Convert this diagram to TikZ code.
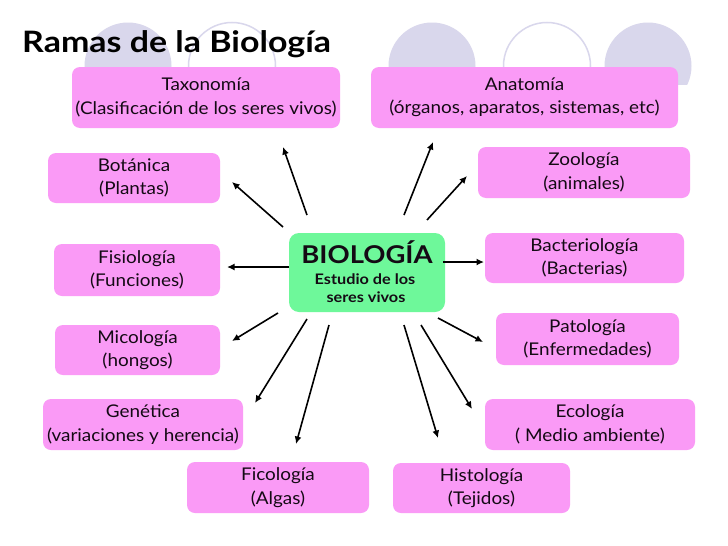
\documentclass[tikz,border=0pt]{standalone}
\usepackage{fontspec}
\setmainfont{Lato}
\newfontfamily\boxfont[FakeStretch=1.08]{Lato}
\newfontfamily\titlefont[FakeStretch=1.15]{Lato}
\newfontfamily\biofont[FakeStretch=1.12]{Lato}
\usetikzlibrary{arrows.meta}
\definecolor{pinkbox}{HTML}{FA9AF6}
\definecolor{greenbox}{HTML}{6EF89A}
\definecolor{lav}{HTML}{D9D7EC}
\definecolor{ink}{HTML}{140A14}
\tikzset{
  pbox/.style={fill=pinkbox, rounded corners=8pt, align=center, text=ink, inner sep=0pt,
    font=\boxfont\fontsize{17.5}{23.5}\selectfont},
  gbox/.style={fill=greenbox, rounded corners=10pt, align=center, text=ink, inner sep=0pt},
  arr/.style={line width=1.6pt, -{Latex[length=7.5pt,width=7pt]}},
  fcirc/.style={fill=lav},
  ocirc/.style={draw=lav, line width=1.5pt, fill=white},
}
\begin{document}
\begin{tikzpicture}[x=1pt,y=-1pt]
\useasboundingbox[fill=white] (0,0) rectangle (728,546);
% decorative circles
\begin{scope}
\clip (0,0) rectangle (728,84);
\fill[fcirc] (128,66) circle (43.5);
\draw[ocirc] (232,66) circle (43.5);
\fill[fcirc] (432,66) circle (43.5);
\draw[ocirc] (547,66) circle (43.5);
\fill[fcirc] (648,66) circle (43.5);
\end{scope}
% title
\node[anchor=base west, inner sep=0pt, font=\titlefont\fontsize{29.5}{31}\selectfont\bfseries, text=black] (title) at (22,52) {Ramas de la Biología};
% boxes
\node[pbox, minimum width=268pt, minimum height=61pt] (tax) at (206,97.5) {Taxonomía\\(Clasificación de los seres vivos)};
\node[pbox, minimum width=307pt, minimum height=61pt] (ana) at (524.5,97.5) {Anatomía\\(órganos, aparatos, sistemas, etc)};
\node[pbox, minimum width=172pt, minimum height=50pt] (bot) at (134,178) {Botánica\\(Plantas)};
\node[pbox, minimum width=212pt, minimum height=51pt] (zoo) at (584,172.5) {Zoología\\(animales)};
\node[pbox, minimum width=166pt, minimum height=52pt] (fis) at (137,270) {Fisiología\\(Funciones)};
\node[pbox, minimum width=199pt, minimum height=50pt] (bac) at (584.5,258) {Bacteriología\\(Bacterias)};
\node[pbox, minimum width=165pt, minimum height=50pt] (mic) at (137.5,350) {Micología\\(hongos)};
\node[pbox, minimum width=183pt, minimum height=52pt] (pat) at (587.5,339) {Patología\\(Enfermedades)};
\node[pbox, minimum width=200pt, minimum height=51pt] (gen) at (143,424.5) {Genética\\(variaciones y herencia)};
\node[pbox, minimum width=210pt, minimum height=51pt] (eco) at (590,424.5) {Ecología\\( Medio ambiente)};
\node[pbox, minimum width=182pt, minimum height=51pt] (fic) at (278,487.5) {Ficología\\(Algas)};
\node[pbox, minimum width=177pt, minimum height=50pt] (his) at (481.5,488) {Histología\\(Tejidos)};
% central box
\node[gbox, minimum width=156pt, minimum height=79pt] (bio) at (367,272.5) {};
\node[anchor=base, inner sep=0pt, text=ink, font=\biofont\fontsize{24.5}{26}\selectfont\bfseries] (bio1) at (367,263) {BIOLOGÍA};
\node[anchor=base, inner sep=0pt, text=ink, font=\biofont\fontsize{14.5}{16}\selectfont\bfseries] (bio2) at (365,284) {Estudio de los};
\node[anchor=base, inner sep=0pt, text=ink, font=\biofont\fontsize{14.5}{16}\selectfont\bfseries] (bio3) at (366,302) {seres vivos};
% arrow end points
\coordinate (s-tax) at (307,215); \coordinate (e-tax) at (283,147);
\coordinate (s-bot) at (283,227); \coordinate (e-bot) at (232,182);
\coordinate (s-ana) at (404,215); \coordinate (e-ana) at (433,142);
\coordinate (s-zoo) at (427,220); \coordinate (e-zoo) at (467,176);
\coordinate (s-fis) at (289,267); \coordinate (e-fis) at (227,267);
\coordinate (s-bac) at (443,262); \coordinate (e-bac) at (484,262);
\coordinate (s-mic) at (278,313); \coordinate (e-mic) at (232,341);
\coordinate (s-gen) at (307,319); \coordinate (e-gen) at (255,403);
\coordinate (s-fic) at (329,325); \coordinate (e-fic) at (296,444);
\coordinate (s-his) at (404,325); \coordinate (e-his) at (438,438);
\coordinate (s-eco) at (421,325); \coordinate (e-eco) at (472,409);
\coordinate (s-pat) at (438,318); \coordinate (e-pat) at (483,342);
\foreach \n in {tax,bot,ana,zoo,fis,bac,mic,gen,fic,his,eco,pat}
  \draw[arr] (s-\n) -- (e-\n);
\end{tikzpicture}
\end{document}
